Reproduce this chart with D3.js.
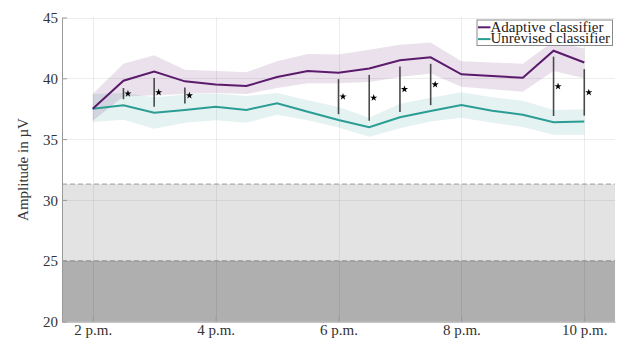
<!DOCTYPE html>
<html>
<head>
<meta charset="utf-8">
<script src="https://cdn.jsdelivr.net/npm/d3@7"></script>
<style>
  html, body { margin: 0; padding: 0; background: #fff; }
  svg { display: block; }
</style>
</head>
<body>
<svg id="chart" width="620" height="338"></svg>
<script>
// Recording times (hours, 24h clock) and x tick labels
const times = [14, 14.5, 15, 15.5, 16, 16.5, 17, 17.5, 18, 18.5, 19, 19.5, 20, 20.5, 21, 21.5, 22];
const xTicks = [14, 16, 18, 20, 22];
const xTickLabels = ["2 p.m.", "4 p.m.", "6 p.m.", "8 p.m.", "10 p.m."];
const yTicks = [20, 25, 30, 35, 40, 45];

// Mean amplitude (µV) and confidence band per classifier
const adaptive      = [37.5, 39.8, 40.55, 39.75, 39.5, 39.37, 40.1, 40.6, 40.45, 40.8, 41.48, 41.73, 40.33, 40.18, 40.05, 42.27, 41.3];
const adaptiveUpper = [38.7, 41.2, 41.9, 40.7, 40.6, 40.5, 41.4, 42.0, 41.95, 42.35, 42.75, 42.95, 41.4, 41.3, 41.2, 43.05, 42.45];
const adaptiveLower = [36.5, 38.5, 38.6, 38.7, 38.8, 38.7, 39.2, 39.6, 39.6, 39.7, 40.1, 40.4, 39.3, 39.1, 38.9, 40.6, 40.0];

const unrevised      = [37.5, 37.78, 37.17, 37.4, 37.65, 37.4, 37.95, 37.25, 36.57, 35.97, 36.79, 37.31, 37.8, 37.33, 37.0, 36.38, 36.45];
const unrevisedUpper = [38.7, 38.8, 38.45, 38.65, 38.75, 38.55, 38.8, 38.2, 37.65, 36.75, 37.9, 38.4, 38.85, 38.45, 38.15, 37.4, 37.45];
const unrevisedLower = [36.4, 36.6, 35.85, 36.35, 36.55, 36.35, 37.0, 36.55, 35.95, 35.2, 35.9, 36.45, 36.75, 36.35, 36.0, 35.35, 35.35];

// Significant differences: time, bar top and bottom (µV)
const sigTimes = [14.5, 15, 15.5, 18, 18.5, 19, 19.5, 21.5, 22];
const sigHigh  = [39.2, 40.03, 39.25, 39.93, 40.28, 40.98, 41.19, 41.78, 40.75];
const sigLow   = [38.28, 37.66, 37.92, 37.05, 36.51, 37.22, 37.79, 36.9, 36.93];

// Reference ranges (µV)
const lowRange  = [20, 25];
const midRange  = [25, 31.3];

const seriesNames = ["Adaptive classifier", "Unrevised classifier"];
const colors = { adaptive: "#5b1a6c", unrevised: "#2b9d95" };
const serif = "'Liberation Serif', 'Times New Roman', Times, serif";

const svg = d3.select("#chart");
const x = d3.scaleLinear().domain([13.5, 22.5]).range([62, 615]);
const y = d3.scaleLinear().domain([20, 45]).range([321.5, 17.5]);

// Shaded reference ranges
svg.append("rect")
  .attr("x", x(13.5)).attr("width", x(22.5) - x(13.5))
  .attr("y", y(midRange[1])).attr("height", y(midRange[0]) - y(midRange[1]))
  .attr("fill", "#e3e3e3");
svg.append("rect")
  .attr("x", x(13.5)).attr("width", x(22.5) - x(13.5))
  .attr("y", y(lowRange[1])).attr("height", y(lowRange[0]) - y(lowRange[1]))
  .attr("fill", "#afafaf");

// Grid
const grid = svg.append("g").attr("stroke", "#000").attr("stroke-opacity", 0.07).attr("stroke-width", 1);
grid.selectAll("line.gx").data(xTicks).join("line")
  .attr("x1", d => Math.round(x(d)) + 0.5).attr("x2", d => Math.round(x(d)) + 0.5)
  .attr("y1", y(45)).attr("y2", y(20));
grid.selectAll("line.gy").data(yTicks).join("line")
  .attr("x1", x(13.5)).attr("x2", x(22.5))
  .attr("y1", d => Math.round(y(d)) + 0.5).attr("y2", d => Math.round(y(d)) + 0.5);

// Dashed range boundaries
svg.selectAll("line.bound").data([midRange[1], lowRange[1]]).join("line")
  .attr("x1", x(13.5)).attr("x2", x(22.5))
  .attr("y1", d => y(d)).attr("y2", d => y(d))
  .attr("stroke", "#999").attr("stroke-width", 1).attr("stroke-dasharray", "5,3");

// Confidence bands
const area = (lo, hi) => d3.area()
  .x((d, i) => x(times[i]))
  .y0((d, i) => y(lo[i]))
  .y1((d, i) => y(hi[i]));
svg.append("path").datum(times)
  .attr("d", area(unrevisedLower, unrevisedUpper))
  .attr("fill", colors.unrevised).attr("fill-opacity", 0.13);
svg.append("path").datum(times)
  .attr("d", area(adaptiveLower, adaptiveUpper))
  .attr("fill", colors.adaptive).attr("fill-opacity", 0.13);

// Mean lines
const line = vals => d3.line().x((d, i) => x(times[i])).y((d, i) => y(vals[i]));
svg.append("path").datum(times).attr("d", line(unrevised))
  .attr("fill", "none").attr("stroke", colors.unrevised).attr("stroke-width", 2);
svg.append("path").datum(times).attr("d", line(adaptive))
  .attr("fill", "none").attr("stroke", colors.adaptive).attr("stroke-width", 2);

// Significance bars and stars
svg.selectAll("line.sig").data(sigTimes).join("line")
  .attr("x1", d => x(d)).attr("x2", d => x(d))
  .attr("y1", (d, i) => y(sigHigh[i])).attr("y2", (d, i) => y(sigLow[i]))
  .attr("stroke", "#4a4a4a").attr("stroke-width", 1.6);
svg.selectAll("path.star").data(sigTimes).join("path")
  .attr("d", d3.symbol().type(d3.symbolStar).size(16))
  .attr("transform", (d, i) => `translate(${x(d) + 4.5},${(y(sigHigh[i]) + y(sigLow[i])) / 2})`)
  .attr("fill", "#000");

// Axes
const axisColor = "#9a9a9a";
const xAxis = svg.append("g").attr("transform", `translate(0,${y(20)})`)
  .call(d3.axisBottom(x).tickValues(xTicks).tickFormat((d, i) => xTickLabels[i]).tickSizeInner(-5).tickSizeOuter(0));
const yAxis = svg.append("g").attr("transform", `translate(${x(13.5)},0)`)
  .call(d3.axisLeft(y).tickValues(yTicks).tickSizeInner(-5).tickSizeOuter(0));
[xAxis, yAxis].forEach(g => {
  g.attr("font-family", null);
  g.select(".domain").attr("stroke", axisColor);
  g.selectAll(".tick line").attr("stroke", axisColor);
  g.selectAll(".tick text").attr("fill", "#333")
    .style("font-family", serif).style("font-size", "15px");
});
xAxis.selectAll(".tick text").attr("y", 13).attr("dy", null);
yAxis.selectAll(".tick text").attr("x", -4).attr("dy", "0.34em");

// Y axis title
svg.append("text")
  .attr("transform", `translate(28,${(y(20) + y(45)) / 2}) rotate(-90)`)
  .attr("text-anchor", "middle")
  .style("font-family", serif).style("font-size", "15px").attr("fill", "#333")
  .text("Amplitude in µV");

// Legend
const legend = svg.append("g");
legend.append("rect")
  .attr("x", 477).attr("y", 20).attr("width", 135.5).attr("height", 25.5)
  .attr("fill", "#fff").attr("stroke", "#8a8a8a").attr("stroke-width", 1);
const legendColors = [colors.adaptive, colors.unrevised];
seriesNames.forEach((name, i) => {
  const cy = 27.3 + i * 11.8;
  legend.append("line")
    .attr("x1", 478).attr("x2", 490.5).attr("y1", cy).attr("y2", cy)
    .attr("stroke", legendColors[i]).attr("stroke-width", 2);
  legend.append("text")
    .attr("x", 490.5).attr("y", cy + 4.2)
    .style("font-family", serif).style("font-size", "15px").attr("fill", "#222")
    .text(name);
});
</script>
</body>
</html>
